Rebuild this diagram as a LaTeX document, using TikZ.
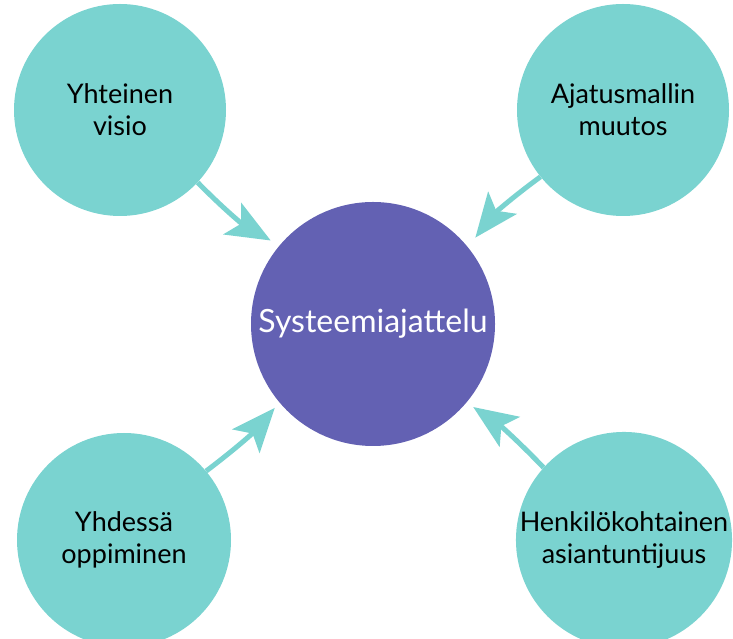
\documentclass[tikz,border=0pt]{standalone}
\usepackage{fontspec}
\setmainfont{Lato}
\usetikzlibrary{arrows.meta}
\definecolor{teal}{RGB}{122,211,208}
\definecolor{hub}{RGB}{99,97,179}
\begin{document}
\begin{tikzpicture}[x=1pt,y=1pt,
  topic/.style={circle,fill=teal,inner sep=0pt,align=center,
    font=\fontsize{27}{32}\selectfont},
  hubnode/.style={circle,fill=hub,inner sep=0pt,text=white,
    minimum size=244pt,font=\fontsize{32}{36}\selectfont},
  link/.style={draw=teal,line width=5pt,
    -{Stealth[length=44pt,width=36pt,inset=10pt]}}]
\useasboundingbox (0,0) rectangle (733,639);
% four contributing themes around the central concept
\node[topic,minimum size=212pt] (tl) at (120,529) {Yhteinen\\visio};
\node[topic,minimum size=212pt] (tr) at (623,529) {Ajatusmallin\\muutos};
\node[topic,minimum size=214pt] (bl) at (124,99) {Yhdessä\\oppiminen};
\node[topic,minimum size=214pt] (br) at (624,99) {Henkilökohtainen\\asiantuntijuus};
\node[hubnode] (c) at (373,315) {\raisebox{5pt}{Systeemiajattelu}};
% arrows pointing into the hub
\draw[link,shorten >=10pt] (tl.-43) to[bend right=8] (c.140);
\draw[link,shorten >=12pt] (tr.219) to[bend right=8] (c.39);
\draw[link,shorten >=7pt] (bl.40) to[bend right=6] (c.220);
\draw[link,shorten >=8pt] (br.138) to[bend right=6] (c.-40);
\end{tikzpicture}
\end{document}
